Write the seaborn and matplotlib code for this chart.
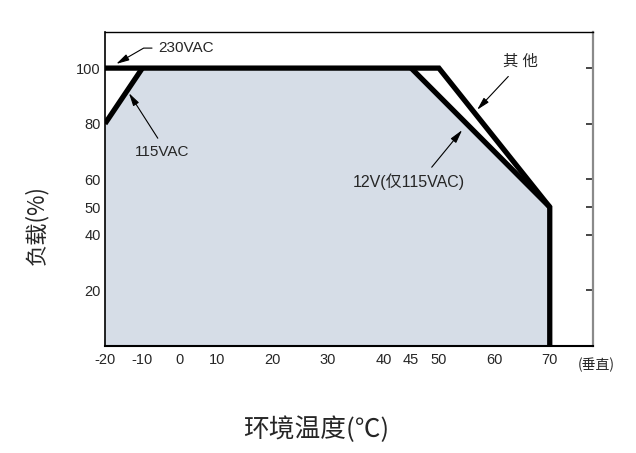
import matplotlib
matplotlib.use("Agg")
import matplotlib.pyplot as plt
import numpy as np
import seaborn as sns

# derating curve data (ambient temperature in C, load in %)
temp_230 = [-20, 50, 70, 70]
load_230 = [100, 100, 50, 0]
temp_115 = [-20, -10]
load_115 = [80, 100]
temp_12v = [45, 70]
load_12v = [100, 50]
temp_area = [-20, -20, -10, 45, 70, 70]
load_area = [0, 80, 100, 100, 50, 0]

x_ticks = [-20, -10, 0, 10, 20, 30, 40, 45, 50, 60, 70]
y_ticks = [20, 40, 50, 60, 80, 100]

# the temperature axis is squeezed below 10 C in the original drawing
scale_pts = [-50, -20, 10, 70, 100]
scale_pos = [-82.2, 0.0, 112.0, 444.3, 610.5]


def forward(v):
    return np.interp(v, scale_pts, scale_pos)


def inverse(v):
    return np.interp(v, scale_pos, scale_pts)


sns.set_style("ticks")
plt.rcParams["font.family"] = ["Liberation Sans", "Noto Sans CJK SC", "DejaVu Sans"]

fig = plt.figure(figsize=(6.36, 4.53), dpi=100)
ax = fig.add_axes([0.1651, 0.2362, 0.7673, 0.6932])
ax.set_xscale("function", functions=(forward, inverse))

ax.fill(temp_area, load_area, color="#d6dde7", lw=0, zorder=1)
line_kw = dict(sort=False, estimator=None, color="black", lw=3.8, ax=ax, zorder=3)
sns.lineplot(x=temp_230, y=load_230, **line_kw)
sns.lineplot(x=temp_115, y=load_115, **line_kw)
sns.lineplot(x=temp_12v, y=load_12v, **line_kw)
for ln in ax.lines:
    ln.set_solid_joinstyle("miter")
    ln.set_solid_capstyle("butt")

ax.set_xlim(-20, 77.8)
ax.set_ylim(0, 113)
ax.set_xticks(x_ticks)
ax.set_xticklabels([str(t) for t in x_ticks])
ax.set_yticks(y_ticks)
ax.set_yticklabels([str(t) for t in y_ticks])
ax.tick_params(axis="x", direction="in", length=5, width=1, pad=5, labelsize=10.5)
ax.tick_params(axis="y", direction="in", length=5, width=1.2, pad=3, labelsize=10.5,
               left=True, right=True)
ax.set_xlabel("")
ax.set_ylabel("")

for side in ("top", "left", "bottom"):
    ax.spines[side].set_color("black")
ax.spines["top"].set_linewidth(1.0)
ax.spines["left"].set_linewidth(1.2)
ax.spines["bottom"].set_linewidth(1.5)
ax.spines["right"].set_color("#8a8a8a")
ax.spines["right"].set_linewidth(1.6)

arrow = dict(arrowstyle="-|>,head_length=0.7,head_width=0.18", color="black", lw=0.8)

ax.annotate("230VAC", xy=(-17.0, 101.5), xytext=(-5.8, 107.2), fontsize=11,
            ha="left", va="center",
            arrowprops=dict(connectionstyle="angle,angleA=0,angleB=30,rad=0",
                            relpos=(0, 0.5), shrinkA=2, shrinkB=0, **arrow))
ax.annotate("115VAC", xy=(-13.6, 91.0), xytext=(-12.0, 69.8), fontsize=11,
            ha="left", va="center",
            arrowprops=dict(relpos=(0.5, 1.0), shrinkA=3, shrinkB=0, **arrow))
ax.annotate("其 他", xy=(56.9, 85.0), xytext=(64.7, 102.2), fontsize=11,
            ha="center", va="center", fontweight="light",
            arrowprops=dict(relpos=(0.35, 0.0), shrinkA=4, shrinkB=0, **arrow))
ax.annotate("12V(仅115VAC)", xy=(54.2, 77.7), xytext=(34.4, 59.0), fontsize=11.5,
            ha="left", va="center",
            arrowprops=dict(relpos=(0.66, 1.0), shrinkA=3, shrinkB=0, **arrow))

fig.text(0.909, 0.194, "(垂直)", fontsize=10, ha="left", va="center",
         family=["Noto Sans CJK SC"], fontweight="light")
fig.text(0.057, 0.503, "负载(%)", fontsize=16, rotation=90, ha="center", va="center",
         family=["Noto Sans CJK SC"], fontweight="light")
fig.text(0.497, 0.051, "环境温度(℃)", fontsize=18.5, ha="center", va="center",
         family=["Noto Sans CJK SC"], fontweight="light")

fig.savefig("out.png", dpi=100)
